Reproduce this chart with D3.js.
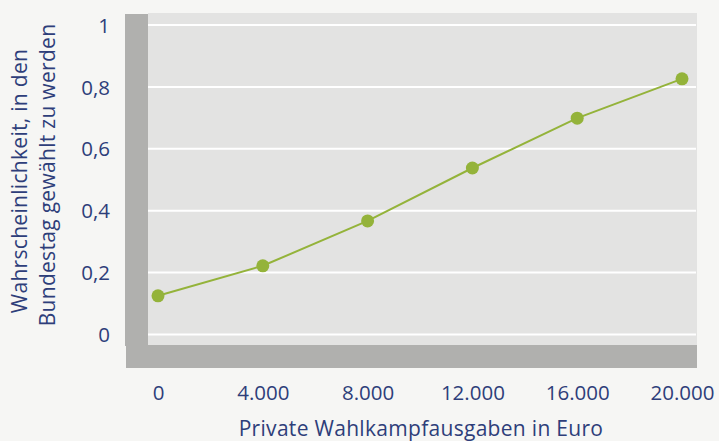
<!DOCTYPE html>
<html><head><meta charset="utf-8">
<script src="https://cdn.jsdelivr.net/npm/d3@7"></script>
<style>body{margin:0;background:#f6f6f4;} svg{display:block;} text{font-family:"Open Sans",sans-serif;fill:#2e3e7a;}</style>
</head><body><svg id="c" width="719" height="441"></svg>
<script>
const spending = [0, 4000, 8000, 12000, 16000, 20000];
const probability = [0.125, 0.222, 0.367, 0.538, 0.699, 0.826];
const xTickLabels = ["0", "4.000", "8.000", "12.000", "16.000", "20.000"];
const yTicks = [0, 0.2, 0.4, 0.6, 0.8, 1];
const yTickLabels = ["0", "0,2", "0,4", "0,6", "0,8", "1"];
const xTitle = "Private Wahlkampfausgaben in Euro";
const yTitle = ["Wahrscheinlichkeit, in den", "Bundestag gewählt zu werden"];

const svg = d3.select("#c");
svg.append("rect").attr("width",719).attr("height",441).attr("fill","#f6f6f4");
const x = d3.scaleLinear().domain([0,20000]).range([158,682]);
const y = d3.scaleLinear().domain([0,1]).range([334.5,25]);

svg.append("rect").attr("x",148).attr("y",13).attr("width",549).attr("height",332).attr("fill","#e3e3e2");
svg.append("rect").attr("x",125).attr("y",14).attr("width",23).attr("height",332).attr("fill","#b0b0ae");
svg.append("rect").attr("x",126).attr("y",345).attr("width",571).attr("height",23).attr("fill","#b0b0ae");

svg.append("g").selectAll("line").data(yTicks).join("line")
  .attr("x1",148).attr("x2",696).attr("y1",d=>y(d)).attr("y2",d=>y(d))
  .attr("stroke","#ffffff").attr("stroke-width",2);

const yAxis = d3.axisLeft(y).tickValues(yTicks).tickFormat((d,i)=>yTickLabels[i]).tickSize(0).tickPadding(0);
const gy = svg.append("g").attr("transform","translate(110,0)").call(yAxis);
gy.select(".domain").remove();
gy.selectAll("text").attr("font-size",20.5).attr("fill","#2e3e7a").attr("font-family","Open Sans").attr("dy","0.35em");

const xAxis = d3.axisBottom(x).tickValues(spending).tickFormat((d,i)=>xTickLabels[i]).tickSize(0).tickPadding(0);
const gx = svg.append("g").attr("transform","translate(0,385)").call(xAxis);
gx.select(".domain").remove();
gx.selectAll("text").attr("font-size",20.5).attr("fill","#2e3e7a").attr("font-family","Open Sans").attr("dy","0.71em");

const data = spending.map((s,i)=>({s, p:probability[i]}));
svg.append("path").datum(data)
  .attr("d", d3.line().x(d=>x(d.s)).y(d=>y(d.p)))
  .attr("fill","none").attr("stroke","#94b33a").attr("stroke-width",2);
svg.append("g").selectAll("circle").data(data).join("circle")
  .attr("cx",d=>x(d.s)).attr("cy",d=>y(d.p)).attr("r",6.5).attr("fill","#94b33a");

svg.append("text").attr("x",421).attr("y",436).attr("text-anchor","middle").attr("font-size",21).attr("letter-spacing",0.3).text(xTitle);
const centers = [181, 175];
const baselines = [27, 55];
yTitle.forEach((t,i)=>svg.append("text")
  .attr("transform",`translate(${baselines[i]},${centers[i]}) rotate(-90)`)
  .attr("text-anchor","middle").attr("font-size",21).attr("letter-spacing",0.3).text(t));
</script></body></html>
